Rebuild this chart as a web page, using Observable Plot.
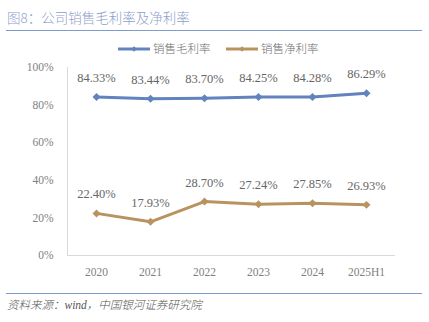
<!DOCTYPE html>
<html><head><meta charset="utf-8">
<script src="https://cdn.jsdelivr.net/npm/d3@7"></script>
<script src="https://cdn.jsdelivr.net/npm/@observablehq/plot@0.6"></script>
<style>
body{margin:0;width:429px;height:322px;background:#fff;position:relative;overflow:hidden;font-family:"Noto Sans CJK SC",sans-serif}
#title{position:absolute;left:7px;top:7px;font-size:13.5px;color:#8ea0cc;line-height:20px;white-space:nowrap;font-weight:300}
.rule{position:absolute;left:6px;width:416px;height:0;border-top:1.5px solid #7f9bd0}
#legend{position:absolute;top:39px;left:0;width:429px;height:18px}
#chart{position:absolute;left:0;top:58px}
#cap{position:absolute;left:7px;top:296px;font-style:italic;font-size:11.5px;color:#555;font-weight:300;font-family:"Liberation Serif","Noto Sans CJK SC",serif;white-space:nowrap}
</style></head>
<body>
<div id="title">图8：公司销售毛利率及净利率</div>
<div class="rule" style="top:30px"></div>
<div id="legend"></div>
<div id="chart"></div>
<div class="rule" style="top:293px"></div>
<div id="cap">资料来源：wind，中国银河证券研究院</div>
<script>
const years = ["2020","2021","2022","2023","2024","2025H1"];
const grossMargin = [84.33,83.44,83.70,84.25,84.28,86.29];
const netMargin = [22.40,17.93,28.70,27.24,27.85,26.93];
const seriesNames = ["销售毛利率","销售净利率"];
const seriesColors = ["#6283bd","#b9935f"];
const yTicks = [0,20,40,60,80,100];

const rows = [];
years.forEach((y,i)=>{
  rows.push({year:y, series:seriesNames[0], value:grossMargin[i]});
  rows.push({year:y, series:seriesNames[1], value:netMargin[i]});
});

const numFont = '"Liberation Serif","DejaVu Serif",serif';

const chart = Plot.plot({
  width:429, height:228,
  marginTop:9, marginBottom:31, marginLeft:67, marginRight:34,
  style:{fontFamily:numFont, fontSize:"11.5px", color:"#808080", background:"transparent"},
  x:{type:"band", domain:years, padding:0, label:null, tickSize:0, tickPadding:12},
  y:{domain:[0,100], ticks:yTicks, tickFormat:d=>d+"%", label:null, tickSize:0, tickPadding:14},
  color:{domain:seriesNames, range:seriesColors},
  marks:[
    Plot.frame({anchor:"left", stroke:"#d9d9d9"}),
    Plot.ruleY([0], {stroke:"#d9d9d9"}),
    Plot.line(rows, {x:"year", y:"value", z:"series", stroke:"series", strokeWidth:3}),
    Plot.dot(rows, {x:"year", y:"value", fill:"series", symbol:"diamond2", r:3.6}),
    Plot.text(rows, {x:"year", y:"value", text:d=>d.value.toFixed(2)+"%", dy:-19, fill:"#666", fontSize:12.5, fontFamily:numFont})
  ]
});
document.getElementById("chart").appendChild(chart);

// legend
const lg = d3.select("#legend").append("svg").attr("width",429).attr("height",18);
const lx = [118, 226];
seriesNames.forEach((n,i)=>{
  const g = lg.append("g").attr("transform",`translate(${lx[i]},9)`);
  g.append("line").attr("x1",0).attr("x2",32).attr("y1",0).attr("y2",0).attr("stroke",seriesColors[i]).attr("stroke-width",3);
  g.append("path").attr("d",d3.symbol(d3.symbolDiamond2, 18)()).attr("transform","translate(16,0)").attr("fill",seriesColors[i]);
  g.append("text").attr("x",35).attr("y",0).attr("dy","0.35em").attr("font-size",11.5).attr("fill","#707070").attr("font-family",'"Noto Sans CJK SC",sans-serif').attr("font-weight",300).text(n);
});
</script>
</body></html>
